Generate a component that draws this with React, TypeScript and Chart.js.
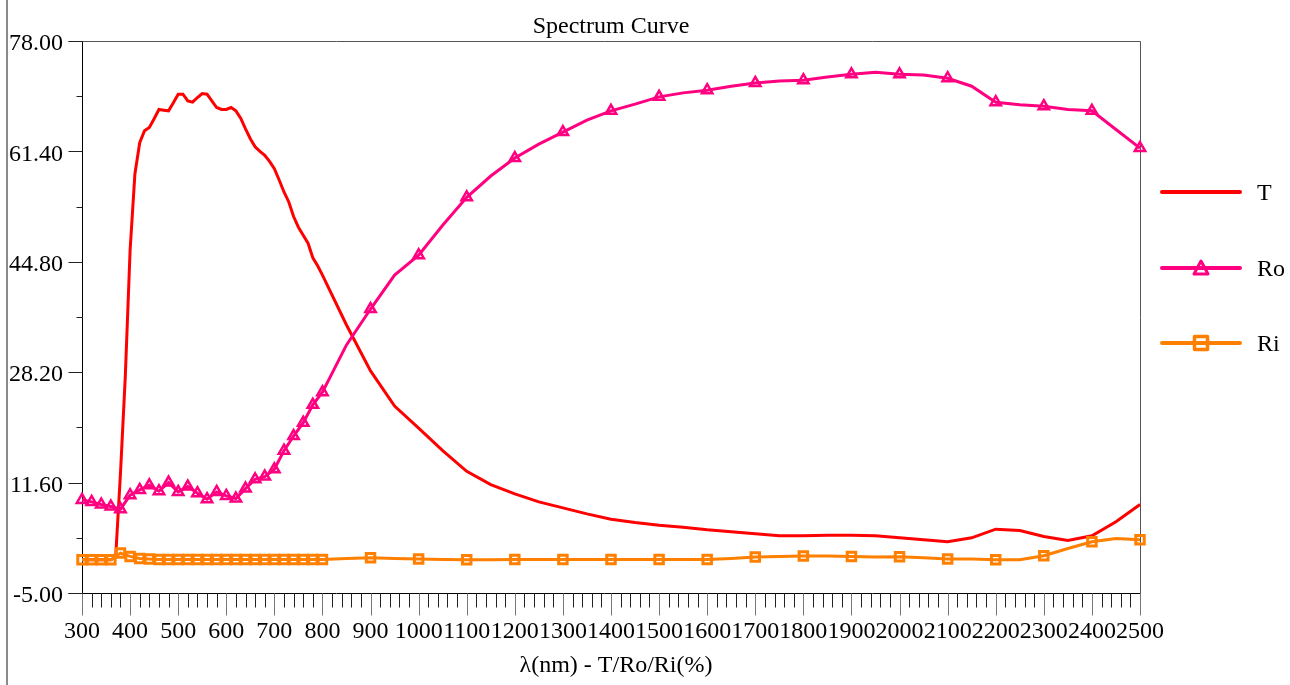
import React, { useEffect, useRef } from 'react';
import { Chart, registerables } from 'chart.js';

Chart.register(...registerables);

const FONT = "'Liberation Serif', 'Times New Roman', serif";

const CHART_TITLE = 'Spectrum Curve';
const X_AXIS_TITLE = 'λ(nm) - T/Ro/Ri(%)';
const SERIES_NAMES = ['T', 'Ro', 'Ri'];
const SERIES_COLORS = ['#ff0000', '#ff0080', '#ff8000'];

const X_MIN = 300;
const X_MAX = 2500;
const X_MINOR_STEP = 20;
const X_TICKS = [300, 400, 500, 600, 700, 800, 900, 1000, 1100, 1200, 1300, 1400, 1500, 1600, 1700, 1800, 1900, 2000, 2100, 2200, 2300, 2400, 2500];
const Y_MIN = -5;
const Y_MAX = 78;
const Y_TICKS = [-5, 11.6, 28.2, 44.8, 61.4, 78];

// T (transmittance)
const T_X = [
  300, 310, 320, 330, 340, 350, 360, 370, 380, 390,
  400, 410, 420, 430, 440, 450, 460, 470, 480, 490,
  500, 510, 520, 530, 540, 550, 560, 570, 580, 590,
  600, 610, 620, 630, 640, 650, 660, 670, 680, 690,
  700, 710, 720, 730, 740, 750, 760, 770, 780, 790,
  800, 850, 900, 950, 1000, 1050, 1100, 1150, 1200, 1250,
  1300, 1350, 1400, 1450, 1500, 1550, 1600, 1650, 1700, 1750,
  1800, 1850, 1900, 1950, 2000, 2050, 2100, 2150, 2200, 2250,
  2300, 2350, 2400, 2450, 2500,
];
const T_Y = [
  0.0, 0.0, 0.0, 0.0, 0.0, 0.0, 0.0, 0.4, 13.0, 27.5,
  46.5, 58.0, 62.7, 64.5, 65.0, 66.3, 67.7, 67.6, 67.5, 68.7,
  70.0, 70.0, 69.0, 68.8, 69.5, 70.1, 70.0, 69.0, 68.0, 67.7,
  67.7, 68.0, 67.5, 66.4, 64.8, 63.3, 62.1, 61.4, 60.8, 59.9,
  58.8, 57.1, 55.3, 53.8, 51.6, 50.0, 48.8, 47.6, 45.4, 44.2,
  42.8, 35.3, 28.4, 23.1, 19.8, 16.4, 13.3, 11.3, 9.9, 8.7,
  7.8, 6.9, 6.1, 5.6, 5.2, 4.9, 4.5, 4.2, 3.9, 3.6,
  3.6, 3.7, 3.7, 3.6, 3.3, 3.0, 2.7, 3.3, 4.6, 4.4,
  3.5, 2.9, 3.6, 5.7, 8.3,
];

// Ro / Ri wavelengths
const R_X = [
  300, 320, 340, 360, 380, 400, 420, 440, 460, 480,
  500, 520, 540, 560, 580, 600, 620, 640, 660, 680,
  700, 720, 740, 760, 780, 800, 850, 900, 950, 1000,
  1050, 1100, 1150, 1200, 1250, 1300, 1350, 1400, 1450, 1500,
  1550, 1600, 1650, 1700, 1750, 1800, 1850, 1900, 1950, 2000,
  2050, 2100, 2150, 2200, 2250, 2300, 2350, 2400, 2450, 2500,
];
const RO_Y = [
  9.0, 8.7, 8.3, 8.0, 7.6, 9.7, 10.5, 11.2, 10.3, 11.6,
  10.2, 11.0, 10.0, 9.1, 10.2, 9.6, 9.2, 10.7, 12.1, 12.5,
  13.6, 16.4, 18.6, 20.6, 23.3, 25.2, 32.3, 37.7, 42.8, 45.8,
  50.3, 54.5, 57.7, 60.4, 62.5, 64.3, 66.1, 67.5, 68.5, 69.6,
  70.2, 70.6, 71.2, 71.7, 72.0, 72.1, 72.6, 73.0, 73.3, 73.0,
  72.9, 72.4, 71.2, 68.8, 68.4, 68.2, 67.7, 67.5, 64.7, 61.9,
];
const RI_Y = [
  0.0, 0.0, 0.0, 0.0, 1.0, 0.5, 0.2, 0.1, 0.05, 0.05,
  0.05, 0.05, 0.05, 0.05, 0.05, 0.05, 0.05, 0.05, 0.05, 0.05,
  0.05, 0.05, 0.05, 0.05, 0.05, 0.05, 0.2, 0.3, 0.2, 0.1,
  0.05, 0.0, 0.0, 0.05, 0.05, 0.05, 0.05, 0.05, 0.05, 0.05,
  0.05, 0.05, 0.2, 0.4, 0.5, 0.55, 0.55, 0.5, 0.4, 0.45,
  0.3, 0.1, 0.1, 0.0, 0.0, 0.6, 1.7, 2.7, 3.2, 3.0,
];

const toPoints = (xs: number[], ys: number[]) => xs.map((x, i) => ({ x, y: ys[i] }));

const isMarked = (x: number) => x <= 800 || x % 100 === 0;

const decorPlugin = {
  id: 'decor',
  beforeDatasetsDraw(chart: any) {
    const { ctx, chartArea: a } = chart;
    const L = Math.round(a.left) + 0.5;
    const R = Math.round(a.right) + 0.5;
    const T = Math.round(a.top) + 0.5;
    const B = Math.round(a.bottom) + 0.5;
    ctx.save();
    ctx.lineWidth = 1;
    ctx.strokeStyle = '#555';
    ctx.beginPath();
    ctx.moveTo(L - 14, T);
    ctx.lineTo(R, T);
    ctx.lineTo(R, B);
    ctx.stroke();
    ctx.strokeStyle = '#000';
    ctx.beginPath();
    ctx.moveTo(L, T);
    ctx.lineTo(L, B);
    ctx.moveTo(L - 14, B);
    ctx.lineTo(R, B);
    ctx.stroke();
    ctx.restore();
  },
  afterDraw(chart: any) {
    const { ctx, chartArea: a, scales } = chart;
    const xs = scales.x;
    const ys = scales.y;
    const L = Math.round(a.left) + 0.5;
    const B = Math.round(a.bottom) + 0.5;
    ctx.save();
    // outer frame line
    ctx.strokeStyle = '#8a8a8a';
    ctx.lineWidth = 2;
    ctx.beginPath();
    ctx.moveTo(7, 0);
    ctx.lineTo(7, chart.height);
    ctx.stroke();

    // y ticks
    ctx.lineWidth = 1;
    ctx.strokeStyle = '#222';
    ctx.beginPath();
    Y_TICKS.forEach((v, i) => {
      const py = Math.round(ys.getPixelForValue(v)) + 0.5;
      ctx.moveTo(L - 14, py);
      ctx.lineTo(L, py);
      if (i < Y_TICKS.length - 1) {
        const pm = Math.round(ys.getPixelForValue((v + Y_TICKS[i + 1]) / 2)) + 0.5;
        ctx.moveTo(L - 6, pm);
        ctx.lineTo(L, pm);
      }
    });
    ctx.stroke();

    // x ticks
    for (let v = X_MIN; v <= X_MAX; v += X_MINOR_STEP) {
      const px = Math.round(xs.getPixelForValue(v)) + 0.5;
      const major = v % 100 === 0;
      ctx.strokeStyle = major ? '#777' : '#222';
      ctx.beginPath();
      ctx.moveTo(px, B);
      ctx.lineTo(px, B + (major ? 22 : 14));
      ctx.stroke();
    }

    // titles
    ctx.fillStyle = '#000';
    ctx.font = `24px ${FONT}`;
    ctx.textAlign = 'center';
    ctx.textBaseline = 'alphabetic';
    ctx.fillText(CHART_TITLE, (a.left + a.right) / 2, 33);
    ctx.fillText(X_AXIS_TITLE, (a.left + a.right) / 2 + 5, 672);

    // legend
    const legendY = [192, 268, 343];
    const x0 = 1162;
    const x1 = 1240;
    const cx = (x0 + x1) / 2;
    SERIES_NAMES.forEach((name, i) => {
      const y = legendY[i];
      const color = SERIES_COLORS[i];
      ctx.strokeStyle = color;
      ctx.lineWidth = 4;
      ctx.lineCap = 'round';
      ctx.beginPath();
      ctx.moveTo(x0, y);
      ctx.lineTo(x1, y);
      ctx.stroke();
      ctx.lineCap = 'butt';
      if (i === 1) {
        ctx.lineWidth = 3;
        ctx.lineJoin = 'round';
        ctx.beginPath();
        ctx.moveTo(cx, y - 7);
        ctx.lineTo(cx + 7, y + 6);
        ctx.lineTo(cx - 7, y + 6);
        ctx.closePath();
        ctx.stroke();
      } else if (i === 2) {
        ctx.lineWidth = 3.5;
        ctx.lineJoin = 'round';
        ctx.beginPath();
        ctx.rect(cx - 6.5, y - 6.5, 13, 13);
        ctx.stroke();
      }
      ctx.fillStyle = '#000';
      ctx.font = `24px ${FONT}`;
      ctx.textAlign = 'left';
      ctx.textBaseline = 'alphabetic';
      ctx.fillText(name, 1257, y + 8);
    });
    ctx.restore();
  },
};

export default function App() {
  const ref = useRef<HTMLCanvasElement>(null);

  useEffect(() => {
    const canvas = ref.current;
    if (!canvas) return;
    const markerRadius = (r: number) => (c: any) => (c.raw && isMarked(c.raw.x) ? r : 0);
    const chart = new Chart(canvas, {
      type: 'line',
      data: {
        datasets: [
          {
            label: SERIES_NAMES[0],
            data: toPoints(T_X, T_Y),
            borderColor: SERIES_COLORS[0],
            borderWidth: 3,
            pointRadius: 0,
            tension: 0,
            order: 2,
            clip: false,
          },
          {
            label: SERIES_NAMES[1],
            data: toPoints(R_X, RO_Y),
            borderColor: SERIES_COLORS[1],
            borderWidth: 3,
            pointStyle: 'triangle',
            pointRadius: markerRadius(6),
            pointBorderWidth: 2.5,
            pointBorderColor: SERIES_COLORS[1],
            pointBackgroundColor: 'rgba(255,255,255,0)',
            tension: 0,
            order: 1,
            clip: false,
          },
          {
            label: SERIES_NAMES[2],
            data: toPoints(R_X, RI_Y),
            borderColor: SERIES_COLORS[2],
            borderWidth: 3,
            pointStyle: 'rect',
            pointRadius: markerRadius(6),
            pointBorderWidth: 3,
            pointBorderColor: SERIES_COLORS[2],
            pointBackgroundColor: 'rgba(255,255,255,0)',
            tension: 0,
            order: 0,
            clip: false,
          },
        ] as any,
      },
      options: {
        animation: false,
        responsive: false,
        events: [],
        layout: { padding: { left: 0, top: 41, right: 150, bottom: 0 } },
        plugins: {
          legend: { display: false },
          title: { display: false },
          tooltip: { enabled: false },
        },
        scales: {
          x: {
            type: 'linear',
            min: X_MIN,
            max: X_MAX,
            grid: { display: false, drawTicks: false },
            border: { display: false },
            afterBuildTicks: (s: any) => {
              s.ticks = X_TICKS.map((v) => ({ value: v }));
            },
            afterFit: (s: any) => {
              s.height = 92;
            },
            ticks: {
              autoSkip: false,
              maxRotation: 0,
              minRotation: 0,
              padding: 24,
              color: '#000',
              font: { family: FONT, size: 24 },
              callback: (v: any) => String(v),
            },
          },
          y: {
            type: 'linear',
            min: Y_MIN,
            max: Y_MAX,
            grid: { display: false, drawTicks: false },
            border: { display: false },
            afterBuildTicks: (s: any) => {
              s.ticks = Y_TICKS.map((v) => ({ value: v }));
            },
            afterFit: (s: any) => {
              s.width = 82;
            },
            ticks: {
              padding: 19,
              labelOffset: 3,
              color: '#000',
              font: { family: FONT, size: 24 },
              callback: (v: any) => Number(v).toFixed(2),
            },
          },
        },
      } as any,
      plugins: [decorPlugin],
    });
    return () => chart.destroy();
  }, []);

  return (
    <div style={{ position: 'fixed', left: 0, top: 0, width: 1290, height: 685, background: '#fff' }}>
      <canvas ref={ref} width={1290} height={685} style={{ display: 'block', width: 1290, height: 685 }} />
    </div>
  );
}
